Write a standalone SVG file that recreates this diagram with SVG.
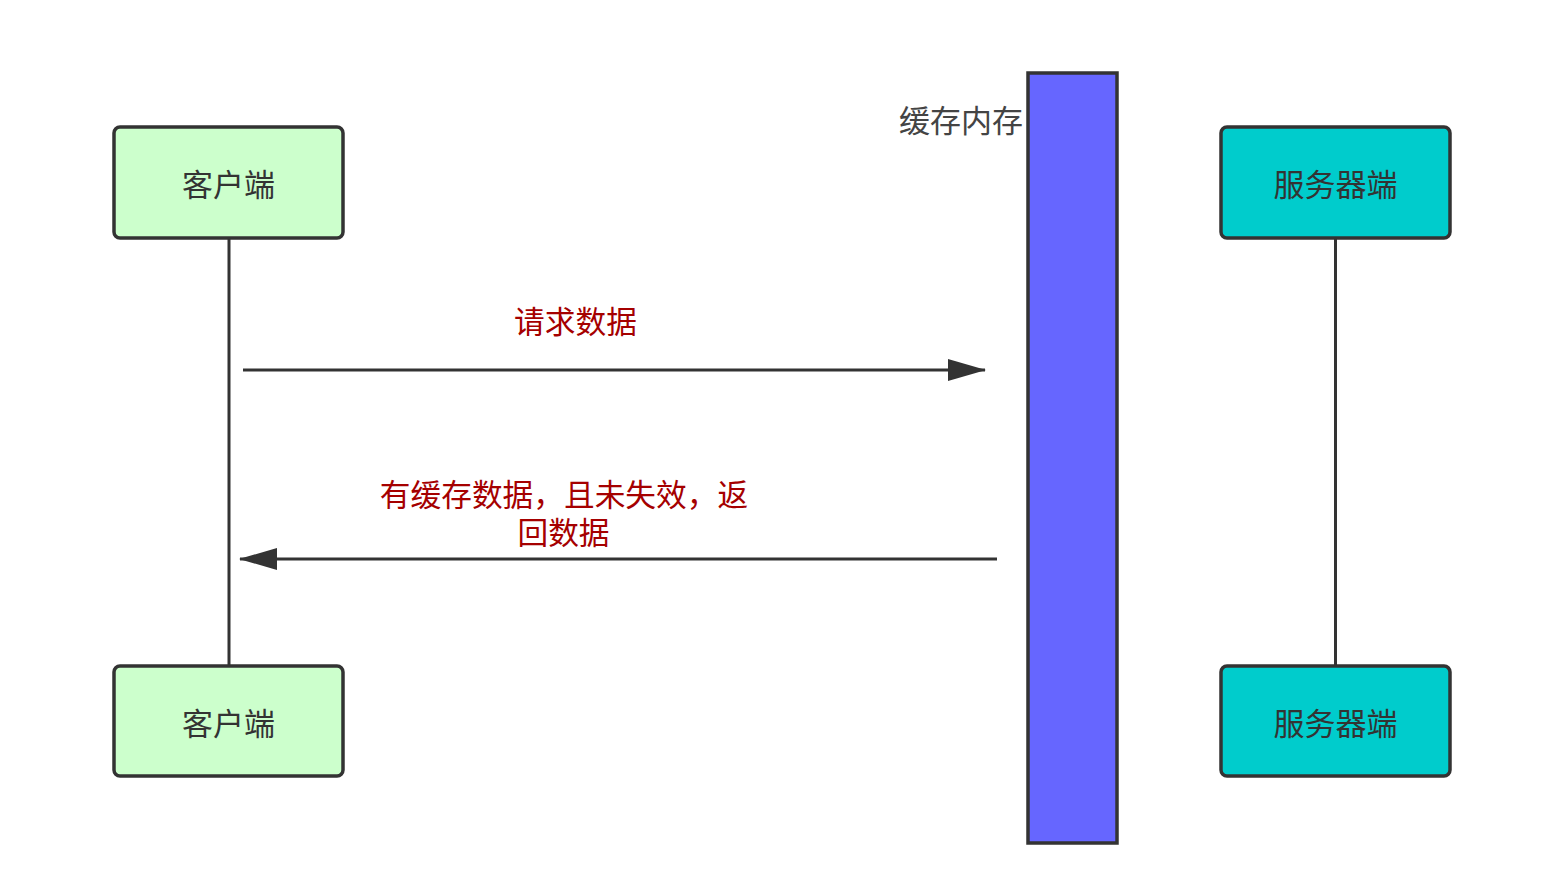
<svg xmlns="http://www.w3.org/2000/svg" width="1556" height="876" viewBox="0 0 1556 876">
<defs>
<style>
.box{stroke:#333;stroke-width:3.5}
.client{fill:#ccffcc}
.server{fill:#00cccc}
.lbl{font-family:"Noto Sans CJK SC","Liberation Sans",sans-serif;font-size:31px;fill:#333;text-anchor:middle}
.red{font-family:"Noto Sans CJK SC","Liberation Sans",sans-serif;font-size:30.7px;fill:#a50000;text-anchor:middle}
.line{stroke:#333;stroke-width:3;fill:none}
</style>
<marker id="ah" viewBox="0 0 38 24" refX="37" refY="12" markerWidth="38" markerHeight="24" markerUnits="userSpaceOnUse" orient="auto">
<path d="M0,1 L38,12 L0,23 Z" fill="#333"/>
</marker>
</defs>
<rect width="1556" height="876" fill="#fff"/>
<g id="connectors">
<line class="line" x1="229" y1="238" x2="229" y2="666"/>
<line class="line" x1="1335.5" y1="238" x2="1335.5" y2="666"/>
<line class="line" x1="243" y1="370" x2="985" y2="370" marker-end="url(#ah)"/>
<line class="line" x1="997" y1="559" x2="240" y2="559" marker-end="url(#ah)"/>
</g>
<g id="cache">
<rect x="1028" y="73" width="89" height="770" fill="#6666ff" class="box"/>
<text class="lbl" x="961" y="132" style="fill:#444">缓存内存</text>
</g>
<g id="client-top">
<rect class="box client" x="114" y="127" width="229" height="111" rx="6"/>
<text class="lbl" x="228.5" y="196">客户端</text>
</g>
<g id="client-bottom">
<rect class="box client" x="114" y="666" width="229" height="110" rx="6"/>
<text class="lbl" x="228.5" y="735">客户端</text>
</g>
<g id="server-top">
<rect class="box server" x="1221" y="127" width="229" height="111" rx="6"/>
<text class="lbl" x="1335.5" y="196">服务器端</text>
</g>
<g id="server-bottom">
<rect class="box server" x="1221" y="666" width="229" height="110" rx="6"/>
<text class="lbl" x="1335.5" y="735">服务器端</text>
</g>
<g id="labels">
<text class="red" x="575.5" y="333">请求数据</text>
<text class="red"><tspan x="564" y="506">有缓存数据，且未失效，返</tspan><tspan x="563.5" y="544">回数据</tspan></text>
</g>
</svg>
